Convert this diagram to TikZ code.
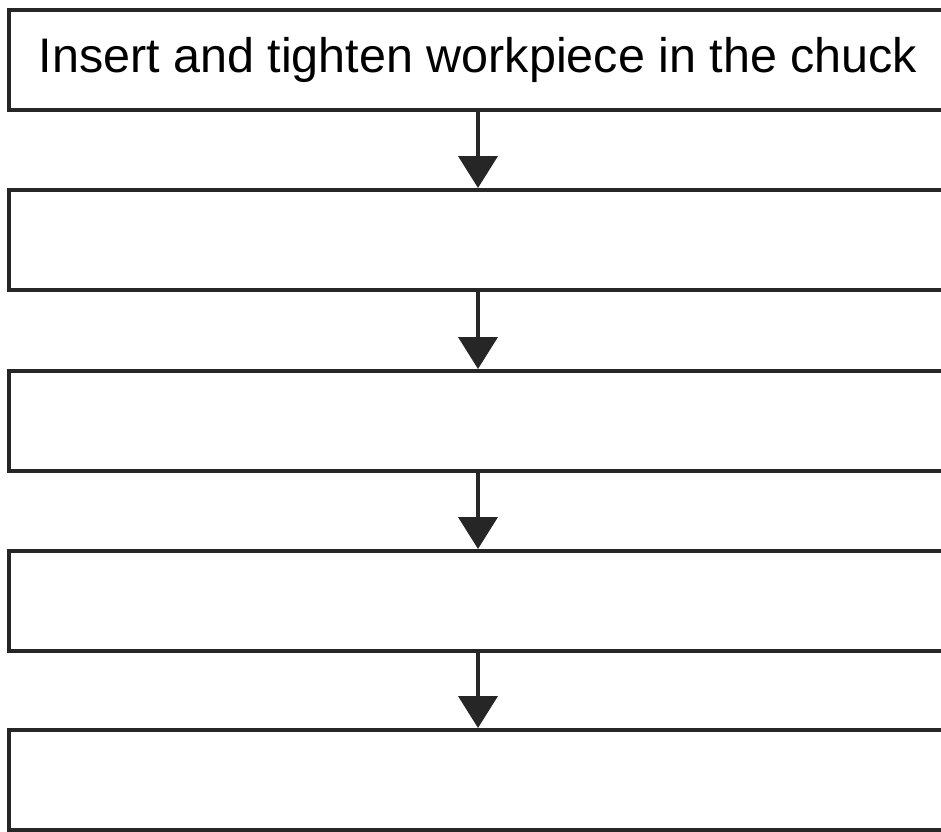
\documentclass[tikz,border=0pt]{standalone}
\usepackage{fontspec}
\setmainfont{Liberation Sans}
\usetikzlibrary{arrows.meta}
\begin{document}
\begin{tikzpicture}[x=0.02cm,y=0.02cm,
    stepbox/.style={draw=black!85,line width=0.08cm,minimum width=18.76cm,minimum height=2cm,inner sep=0pt,
        font=\fontsize{27.6}{33}\selectfont},
    flow/.style={draw=black!85,line width=0.08cm,-{Triangle[width=0.78cm,length=0.64cm]}}]
                \clip (0,0) rectangle (941,832);
                \node[stepbox] (s1) at (478,772) {Insert and tighten workpiece in the chuck\hspace{0.16cm}};
                \node[stepbox] (s2) at (478,592) {};
                \node[stepbox] (s3) at (478,411) {};
                \node[stepbox] (s4) at (478,231) {};
                \node[stepbox] (s5) at (478,52) {};
                \draw[flow] (s1) -- (s2);
                \draw[flow] (s2) -- (s3);
                \draw[flow] (s3) -- (s4);
                \draw[flow] (s4) -- (s5);
            \end{tikzpicture}
\end{document}
